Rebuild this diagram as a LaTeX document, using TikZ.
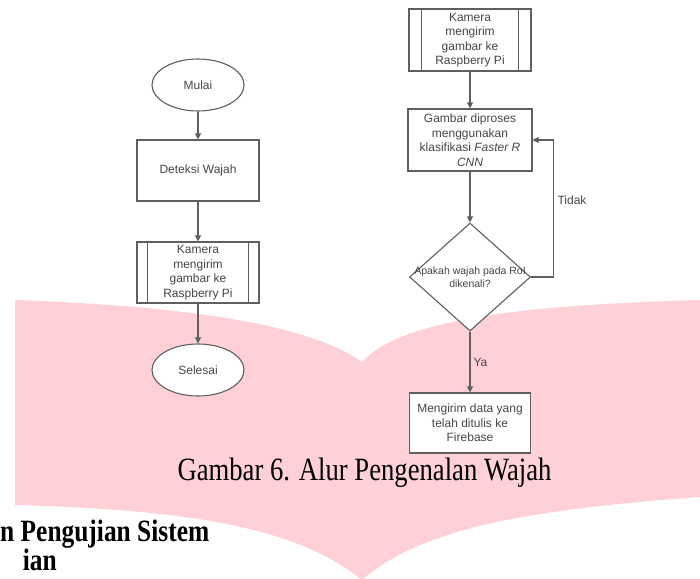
\documentclass[tikz,border=0pt]{standalone}
\usepackage{fontspec}
\setmainfont{Liberation Serif}
\newfontfamily\arialfont{Liberation Sans}
\usepackage{xcolor}
\usetikzlibrary{shapes.geometric,calc,arrows.meta}
\definecolor{pinkbg}{RGB}{255,209,214}
\definecolor{boxline}{RGB}{95,95,95}
\definecolor{boxtext}{RGB}{70,70,70}
\tikzset{
  chart/.style={draw=boxline, line width=1.1pt, fill=white, text=boxtext,
    font=\arialfont\fontsize{12}{14.5}\selectfont, align=center, inner sep=1pt},
  proc/.style={chart, rectangle, minimum width=122pt, minimum height=61pt},
  term/.style={chart, ellipse, minimum width=92pt, minimum height=52pt},
  decide/.style={chart, diamond, minimum width=121pt, minimum height=108pt,
    font=\arialfont\fontsize{10.5}{13}\selectfont},
  arr/.style={draw=boxline, line width=1.1pt, -{Triangle[length=6pt,width=6pt]}},
  lbl/.style={text=boxtext, font=\arialfont\fontsize{12}{14}\selectfont, inner sep=3pt},
}

\begin{document}
\begin{tikzpicture}[x=1pt,y=-1pt]
\useasboundingbox (0,0) rectangle (700,578);
\clip (0,0) rectangle (700,578);
% background watermark
\fill[pinkbg] (15,300) .. controls (150,305) and (300,318) .. (362,362)
  .. controls (400,320) and (520,305) .. (700,300) -- (700,497)
  .. controls (520,510) and (420,530) .. (362,580)
  .. controls (300,530) and (200,510) .. (15,505) -- cycle;
% left flow
\node (mulai) at (198,85) [term] {Mulai};
\node (deteksi) at (198,170.5) [proc] {Deteksi Wajah};
\node (kamA) at (198,272.5) [proc] {Kamera\\mengirim\\gambar ke\\Raspberry Pi};
\node (selesai) at (198,370) [term] {Selesai};
\draw[boxline, line width=1.1pt] ($(kamA.north west)+(11,0)$) -- ($(kamA.south west)+(11,0)$);
\draw[boxline, line width=1.1pt] ($(kamA.north east)+(-11,0)$) -- ($(kamA.south east)+(-11,0)$);
\draw[arr] (mulai) -- (deteksi);
\draw[arr] (deteksi) -- (kamA);
\draw[arr] (kamA) -- (selesai);
% right flow
\node (kamB) at (470,40) [proc, minimum height=62pt] {Kamera\\mengirim\\gambar ke\\Raspberry Pi};
\draw[boxline, line width=1.1pt] ($(kamB.north west)+(13,0)$) -- ($(kamB.south west)+(13,0)$);
\draw[boxline, line width=1.1pt] ($(kamB.north east)+(-13,0)$) -- ($(kamB.south east)+(-13,0)$);
\node (proses) at (470,140) [proc, minimum width=124pt, minimum height=62pt] {Gambar diproses\\menggunakan\\klasifikasi \textit{Faster R}\\\textit{CNN}};
\node (cek) at (470,277) [decide] {\makebox[0pt]{Apakah wajah pada RoI}\\dikenali?};
\node (kirim) at (470,423) [proc, minimum width=121pt, minimum height=60pt] {Mengirim data yang\\telah ditulis ke\\Firebase};
\draw[arr] (kamB) -- (proses);
\draw[arr] (proses) -- (cek);
\draw[arr] (cek) -- node[midway, right, lbl] {Ya} (kirim);
\draw[arr] (cek.east) -- ++(22,0) |- (proses.east);
\node (tidak) at (572,200) [lbl] {Tidak};
% caption and page text
\node (judul) at (364.5,480) [anchor=base, inner sep=0pt, font=\fontsize{32.5}{36}\selectfont] {\scalebox{0.82}[1]{Gambar 6. Alur Pengenalan Wajah}};
\node (sub) at (0,541) [anchor=base west, inner sep=0pt, font=\bfseries\fontsize{31}{34}\selectfont] {\scalebox{0.82}[1]{n Pengujian Sistem}};
\node (sub2) at (57,570) [anchor=base east, inner sep=0pt, font=\bfseries\fontsize{31}{34}\selectfont] {\scalebox{0.82}[1]{ian}};
\end{tikzpicture}
\end{document}
